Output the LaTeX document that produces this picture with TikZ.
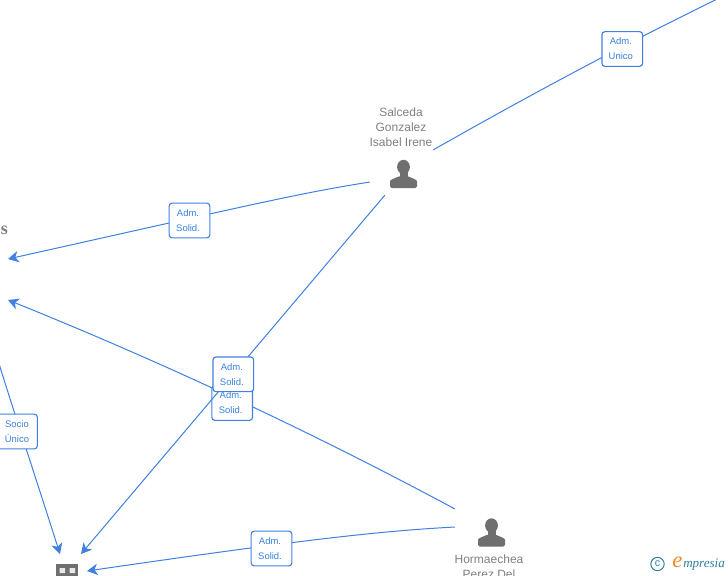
\documentclass[tikz,border=0pt]{standalone}
\usepackage{fontspec}
\setmainfont{Liberation Sans}
\newfontfamily\serifbold{Liberation Serif}
\usetikzlibrary{arrows.meta}
\definecolor{edgeblue}{HTML}{3F80E0}
\definecolor{labelblue}{HTML}{3A82E0}
\definecolor{icongrey}{HTML}{6F6F6F}
\definecolor{namegrey}{HTML}{808080}
\definecolor{logoteal}{HTML}{2F7F9F}
\definecolor{logoorange}{HTML}{F08A24}
\tikzset{
  x=0.75pt,y=-0.75pt,
  edge/.style={draw=edgeblue,line width=0.75pt},
  arrowedge/.style={edge,-{Stealth[length=8pt,width=8.5pt,inset=2.4pt]}},
  rolebox/.style={draw=edgeblue,fill=white,rounded corners=2.2pt,line width=0.85pt,
    minimum width=30.5pt,minimum height=26pt,inner sep=0pt,align=center,
    text=labelblue,font=\fontsize{7.1}{11.25}\selectfont},
  personname/.style={inner sep=0pt,align=center,text=namegrey,font=\fontsize{9}{11.25}\selectfont},
  anchorpt/.style={inner sep=0pt,minimum size=0pt},
}
\newcommand{\boxlines}[2]{#1\hspace*{2.2pt}\\#2\hspace*{2.2pt}}
\newcommand{\personicon}[2]{%
  \fill[icongrey] (#1,#2-8) circle[x radius=6.4,y radius=7.2];
  \fill[icongrey] (#1-4,#2-5) rectangle (#1+4,#2+3);
  \fill[icongrey,rounded corners=1.2pt] (#1-13.5,#2+13) -- (#1-13.5,#2+8)
    .. controls (#1-13.5,#2+4.5) and (#1-9,#2+3.5) .. (#1-4,#2+1) -- (#1+4,#2+1)
    .. controls (#1+9,#2+3.5) and (#1+13.5,#2+4.5) .. (#1+13.5,#2+8)
    -- (#1+13.5,#2+13) -- cycle;
}
\begin{document}
\begin{tikzpicture}
\useasboundingbox (0,0) rectangle (728,575);
\clip (0,0) rectangle (728,575);
\fill[white] (0,0) rectangle (728,575);
% anchors
\node[anchorpt] (sA) at (433,150) {};
\node[anchorpt] (sB) at (370,182) {};
\node[anchorpt] (sC) at (385,195) {};
\node[anchorpt] (hA) at (455,509) {};
\node[anchorpt] (hB) at (455,527) {};
\coordinate (topR) at (740,-12);
\coordinate (offL) at (-3,357);
\coordinate (t1) at (8,259);
\coordinate (t2) at (8,300);
\coordinate (b1) at (60,554);
\coordinate (b2) at (81,554);
\coordinate (b3) at (87,571);
% edges
\draw[edge] (sA) .. controls (535,92) and (640,36) .. (topR);
\draw[arrowedge] (sB) .. controls (300,193) and (250,205) .. (t1);
\draw[arrowedge] (hA) .. controls (306,429) and (157,360) .. (t2);
\draw[arrowedge] (offL) .. controls (10,400) and (30,460) .. (b1);
\draw[arrowedge] (hB) .. controls (380,531) and (300,540) .. (b3);
% boxes
\node[rolebox] (l5) at (232.2,403) {\boxlines{Adm.}{Solid.}};
\draw[arrowedge] (sC) -- (b2);
\node[rolebox] (l1) at (622.3,49) {\boxlines{Adm.}{Unico}};
\node[rolebox] (l2) at (189.5,220.5) {\boxlines{Adm.}{Solid.}};
\node[rolebox] (l3) at (233.3,374.3) {\boxlines{Adm.}{Solid.}};
\node[rolebox] (l4) at (17,431.5) {Socio\\Único};
\node[rolebox] (l6) at (271.5,548.5) {\boxlines{Adm.}{Solid.}};
% people
\personicon{403.5}{175}
\personicon{491.5}{533.5}
\node[personname] (n1) at (401,127) {Salceda\\Gonzalez\\Isabel Irene};
\node[personname,anchor=north] (n2) at (489,555) {Hormaechea\\Perez Del};
% company
\fill[icongrey] (56,564) rectangle (78,580);
\fill[white!85!icongrey] (59.5,568) rectangle (65,573) (69.5,568) rectangle (75,573);
\node[inner sep=0pt,text=namegrey,font=\serifbold\bfseries\fontsize{13.5}{14}\selectfont] (s) at (4.5,230.5) {s};
% logo
\node[draw=logoteal,circle,line width=0.75pt,minimum size=10pt,inner sep=0pt,text=logoteal,font=\fontsize{8}{8}\selectfont] (c) at (657.5,564) {c};
\node[inner sep=0pt,text=logoorange,font=\serifbold\itshape\fontsize{17}{17}\selectfont] (e) at (677.5,562) {e};
\node[inner sep=0pt,anchor=west,text=logoteal,font=\serifbold\itshape\fontsize{9.8}{10}\selectfont] (m) at (683,565) {mpresia};
\end{tikzpicture}
\end{document}
